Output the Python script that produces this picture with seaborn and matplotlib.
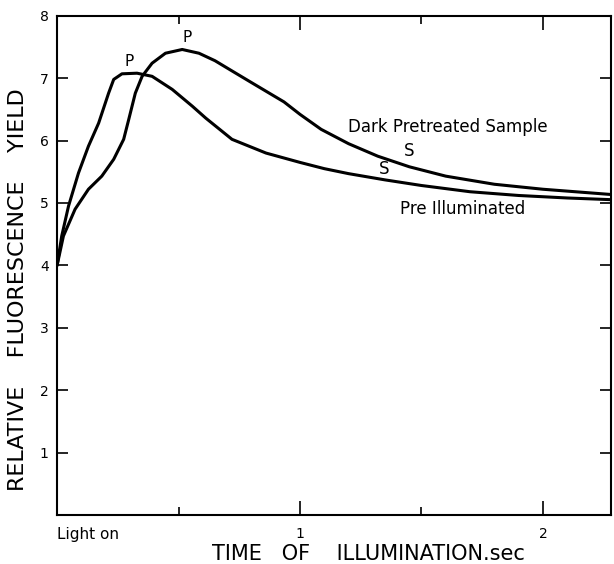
import matplotlib
matplotlib.use("Agg")
import matplotlib.pyplot as plt
import seaborn as sns
import pandas as pd
from matplotlib.ticker import FixedLocator

# ---- data ----
dark_x = [0.0, 0.026, 0.074, 0.129, 0.184, 0.233, 0.274, 0.295, 0.322, 0.35, 0.391,
          0.446, 0.515, 0.584, 0.65, 0.727, 0.80, 0.934, 1.0, 1.087, 1.2, 1.32, 1.45,
          1.6, 1.8, 2.0, 2.3]
dark_y = [4.0, 4.47, 4.9, 5.22, 5.43, 5.7, 6.02, 6.34, 6.76, 7.03, 7.24,
          7.40, 7.46, 7.40, 7.28, 7.10, 6.93, 6.62, 6.42, 6.18, 5.95, 5.75, 5.58,
          5.43, 5.30, 5.22, 5.13]
pre_x = [0.0, 0.019, 0.047, 0.088, 0.129, 0.171, 0.212, 0.233, 0.267, 0.329, 0.391,
         0.474, 0.557, 0.612, 0.72, 0.86, 1.0, 1.1, 1.2, 1.35, 1.5, 1.7, 1.9, 2.1, 2.3]
pre_y = [4.0, 4.47, 4.95, 5.48, 5.91, 6.28, 6.76, 6.98, 7.07, 7.08, 7.03,
         6.82, 6.55, 6.36, 6.02, 5.80, 5.65, 5.55, 5.47, 5.37, 5.28, 5.18, 5.12, 5.08, 5.05]
series_names = ["Dark Pretreated Sample", "Pre Illuminated"]
y_ticks = [1, 2, 3, 4, 5, 6, 7, 8]
x_major = [0, 1, 2]
x_major_labels = ["Light on", "1", "2"]
x_minor = [0.5, 1.5]

df = pd.concat([
    pd.DataFrame({"t": dark_x, "F": dark_y, "sample": series_names[0]}),
    pd.DataFrame({"t": pre_x, "F": pre_y, "sample": series_names[1]}),
])

sns.set_style("ticks")
plt.rcParams["font.family"] = ["DejaVu Sans"]
plt.rcParams["text.color"] = "black"
plt.rcParams["axes.labelcolor"] = "black"
plt.rcParams["xtick.color"] = "black"
plt.rcParams["ytick.color"] = "black"

fig = plt.figure(figsize=(6.14, 5.64), dpi=100)
ax = fig.add_axes([0.093, 0.087, 0.902, 0.885])

sns.lineplot(data=df, x="t", y="F", hue="sample", palette=["black", "black"],
             linewidth=2.2, legend=False, ax=ax, sort=False, estimator=None)

ax.set_xlim(0, 2.28)
ax.set_ylim(0, 8)

ax.xaxis.set_major_locator(FixedLocator(x_major))
ax.set_xticklabels(x_major_labels)
ax.xaxis.set_minor_locator(FixedLocator(x_minor))
ax.yaxis.set_major_locator(FixedLocator(y_ticks))
ax.set_yticklabels([str(v) for v in y_ticks])

ax.tick_params(axis="both", which="major", direction="in", top=True, right=True,
               length=10, width=1.2, labelsize=10, colors="black")
ax.tick_params(axis="both", which="minor", direction="in", top=True, right=True,
               length=6, width=1.2)
ax.tick_params(axis="y", which="major", length=8, pad=6)
ax.tick_params(axis="x", which="major", pad=9)
lbls = ax.get_xticklabels()
lbls[0].set_ha("left")
lbls[0].set_fontsize(11)

for s in ax.spines.values():
    s.set_linewidth(1.5)
    s.set_color("black")

ax.set_xlabel("TIME   OF    ILLUMINATION.sec", fontsize=15)
ax.set_ylabel("RELATIVE    FLUORESCENCE    YIELD", fontsize=16)
ax.xaxis.set_label_coords(0.562, -0.058)
ax.yaxis.set_label_coords(-0.052, 0.451)

ax.text(0.295, 7.27, "P", fontsize=11, ha="center", va="center")
ax.text(0.537, 7.66, "P", fontsize=11, ha="center", va="center")
ax.text(1.45, 5.84, "S", fontsize=12, ha="center", va="center")
ax.text(1.347, 5.54, "S", fontsize=12, ha="center", va="center")
ax.text(1.198, 6.22, series_names[0], fontsize=12, ha="left", va="center")
ax.text(1.41, 4.9, series_names[1], fontsize=12, ha="left", va="center")

fig.savefig("out.png", dpi=100)
